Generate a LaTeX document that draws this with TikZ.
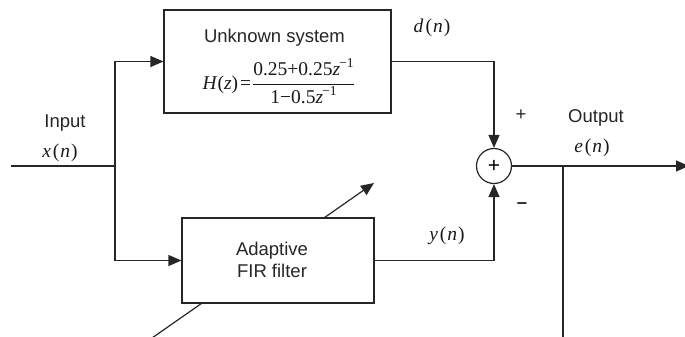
\documentclass[tikz,border=0pt]{standalone}
\usepackage{fontspec}
\setmainfont{Liberation Serif}
\setsansfont{Liberation Sans}
\usetikzlibrary{arrows.meta}
\newcommand\fsz[1]{\fontsize{#1}{#1}\selectfont}
\newcommand\fnv[2]{\textit{#1}\kern2pt(\kern1pt\textit{#2}\kern1pt)}
\begin{document}
\begin{tikzpicture}[x=1pt,y=-1pt,
  line width=1.2pt, draw=black!85,
  blockbox/.style={draw=black!85, fill=white, rectangle, inner sep=0pt},
  sanslbl/.style={font=\sffamily\fsz{18.5}, inner sep=0pt, text=black!85},
  varlbl/.style={font=\rmfamily\fsz{19.5}, inner sep=0pt, text=black!90},
  arr/.style={-{Triangle[length=13pt,width=11pt]}}]
\useasboundingbox (0,0) rectangle (685,337);

% coordinates
\coordinate (inL) at (11,166);
\coordinate (jn) at (115,166);
\coordinate (tap) at (563,166);
\coordinate (tapend) at (563,338);
\coordinate (outR) at (689,166);
\coordinate (diagA) at (152,338);
\coordinate (diagB) at (374,183);

% adaptation arrow (behind the filter box)
\draw[arr] (diagA) -- (diagB);

% blocks
\node[blockbox, minimum width=227pt, minimum height=103pt] (unk) at (277.5,61.5) {};
\node[blockbox, minimum width=192pt, minimum height=85pt] (fir) at (278,260.5) {};
\node[draw=black!85, fill=white, circle, minimum size=35pt, inner sep=0pt] (sum) at (494,166) {\sffamily\fsz{21}+};

% texts in blocks
\node[sanslbl, anchor=base] (unkt) at (274.5,43) {Unknown system};
\node[inner sep=0pt, text=black!90] (hz) at (279,81) {\rmfamily\fsz{19.5}\mbox{\textit{H}(\textit{z})\kern2pt=\kern1pt}$\displaystyle\frac{\mbox{0.25+0.25\textit{z}\textsuperscript{\kern-1pt−1}}}{\mbox{1−0.5\textit{z}\textsuperscript{\kern-1pt−1}}}$};
\node[sanslbl, anchor=base] (firt1) at (272,255) {Adaptive};
\node[sanslbl, anchor=base] (firt2) at (272,277) {FIR filter};

% connectors
\draw (inL) -- (jn);
\draw[arr] (jn) |- (unk.west);
\draw[arr] (jn) |- (fir.west);
\draw[arr] (unk.east) -| (sum.north);
\draw[arr] (fir.east) -| (sum.south);
\draw[arr] (sum.east) -- (outR);
\draw (tap) -- (tapend);

% labels
\node[sanslbl, anchor=base] (inlbl) at (65,127) {Input};
\node[varlbl, anchor=base] (xlbl) at (60,157) {\fnv{x}{n}};
\node[varlbl, anchor=base] (dlbl) at (432,33) {\fnv{d}{n}};
\node[sanslbl] (plus) at (521,115) {+};
\node[sanslbl, anchor=base] (outlbl) at (596,122) {Output};
\node[varlbl, anchor=base] (elbl) at (592,152) {\fnv{e}{n}};
\node[sanslbl] (minus) at (522,206) {\textbf{–}};
\node[varlbl, anchor=base] (ylbl) at (447,240) {\fnv{y}{n}};
\end{tikzpicture}
\end{document}
